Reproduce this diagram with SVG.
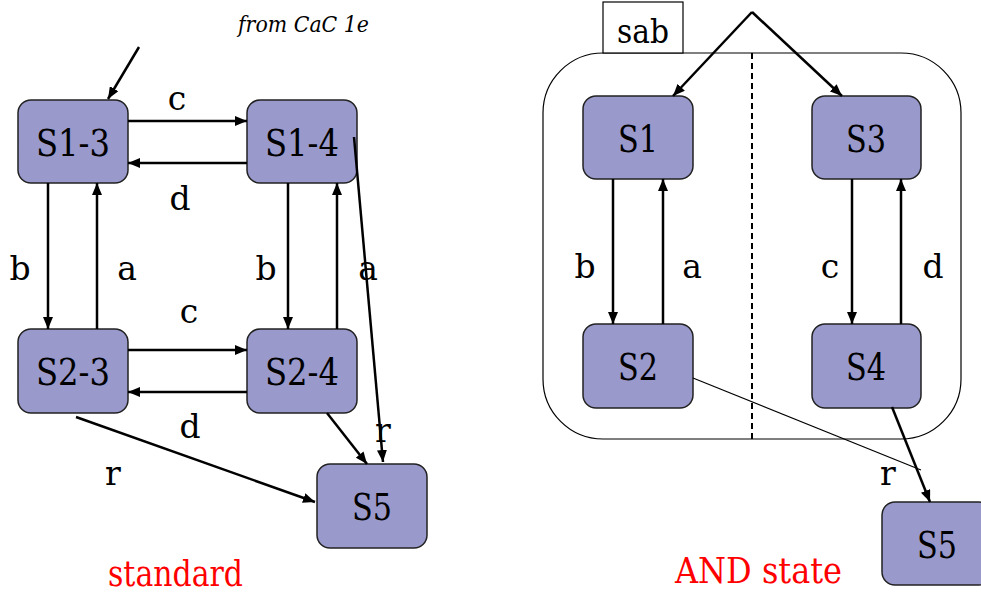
<svg xmlns="http://www.w3.org/2000/svg" width="981" height="594" viewBox="0 0 981 594">
<style>
text{font-family:"DejaVu Serif",serif}
.node rect{fill:#9999cc;stroke:#222;stroke-width:1.5}
.node text{font-size:38px;text-anchor:middle;fill:#000}
.lbl{font-size:33px;text-anchor:middle;fill:#000}
.red{font-size:35px;fill:#ff0000}
.edge{stroke:#000;stroke-width:2.5;fill:none}
</style>
<defs>
<marker id="ah" viewBox="0 0 12 10" refX="12" refY="5" markerWidth="12" markerHeight="10" markerUnits="userSpaceOnUse" orient="auto">
<path d="M0,0 L12,5 L0,10 z" fill="#000"/>
</marker>
</defs>
<text x="238" y="32" font-style="italic" font-size="22" textLength="131" lengthAdjust="spacingAndGlyphs">from CaC 1e</text>
<g id="sab-state">
<rect x="543" y="53" width="418" height="386" rx="60" ry="60" fill="none" stroke="#000" stroke-width="1.2"/>
<line x1="752" y1="53" x2="752" y2="439" stroke="#000" stroke-width="2" stroke-dasharray="6,4"/>
<rect x="603" y="2" width="80" height="51" fill="#fff" stroke="#000" stroke-width="1.2"/>
<text x="643" y="43" class="lbl" font-size="36" textLength="52" lengthAdjust="spacingAndGlyphs">sab</text>
</g>
<g id="S1-3" class="node"><rect x="18" y="100" width="110" height="83" rx="13"/><text x="73" y="156" textLength="74" lengthAdjust="spacingAndGlyphs">S1-3</text></g>
<g id="S1-4" class="node"><rect x="247" y="100" width="110" height="83" rx="13"/><text x="302" y="156" textLength="74" lengthAdjust="spacingAndGlyphs">S1-4</text></g>
<g id="S2-3" class="node"><rect x="18" y="329" width="110" height="84" rx="13"/><text x="73" y="385" textLength="74" lengthAdjust="spacingAndGlyphs">S2-3</text></g>
<g id="S2-4" class="node"><rect x="247" y="329" width="110" height="84" rx="13"/><text x="302" y="385" textLength="74" lengthAdjust="spacingAndGlyphs">S2-4</text></g>
<g id="S5a" class="node"><rect x="317" y="464" width="110" height="84" rx="13"/><text x="372" y="520" textLength="40" lengthAdjust="spacingAndGlyphs">S5</text></g>
<g id="S1" class="node"><rect x="583" y="96" width="110" height="83" rx="13"/><text x="638" y="152" textLength="40" lengthAdjust="spacingAndGlyphs">S1</text></g>
<g id="S3" class="node"><rect x="812" y="96" width="109" height="83" rx="13"/><text x="866" y="152" textLength="40" lengthAdjust="spacingAndGlyphs">S3</text></g>
<g id="S2" class="node"><rect x="583" y="324" width="110" height="84" rx="13"/><text x="638" y="380" textLength="40" lengthAdjust="spacingAndGlyphs">S2</text></g>
<g id="S4" class="node"><rect x="812" y="324" width="109" height="84" rx="13"/><text x="866" y="380" textLength="40" lengthAdjust="spacingAndGlyphs">S4</text></g>
<g id="S5b" class="node"><rect x="882" y="502" width="110" height="83" rx="13"/><text x="937" y="558" textLength="40" lengthAdjust="spacingAndGlyphs">S5</text></g>
<g id="connectors">
<line class="edge" x1="139" y1="47" x2="108" y2="99" marker-end="url(#ah)"/>
<line class="edge" x1="128" y1="121" x2="247" y2="121" marker-end="url(#ah)"/>
<line class="edge" x1="247" y1="163" x2="128" y2="163" marker-end="url(#ah)"/>
<line class="edge" x1="48" y1="183" x2="48" y2="329" marker-end="url(#ah)"/>
<line class="edge" x1="97" y1="329" x2="97" y2="183" marker-end="url(#ah)"/>
<line class="edge" x1="288" y1="183" x2="288" y2="329" marker-end="url(#ah)"/>
<line class="edge" x1="337" y1="329" x2="337" y2="183" marker-end="url(#ah)"/>
<line class="edge" x1="354" y1="137" x2="383" y2="462" marker-end="url(#ah)"/>
<line class="edge" x1="128" y1="350" x2="247" y2="350" marker-end="url(#ah)"/>
<line class="edge" x1="247" y1="392" x2="128" y2="392" marker-end="url(#ah)"/>
<line class="edge" x1="327" y1="413" x2="367" y2="464" marker-end="url(#ah)"/>
<line class="edge" x1="76" y1="417" x2="315" y2="502" marker-end="url(#ah)"/>
<line class="edge" x1="752" y1="12" x2="673" y2="96" marker-end="url(#ah)"/>
<line class="edge" x1="752" y1="12" x2="842" y2="96" marker-end="url(#ah)"/>
<line class="edge" x1="613" y1="179" x2="613" y2="324" marker-end="url(#ah)"/>
<line class="edge" x1="663" y1="324" x2="663" y2="179" marker-end="url(#ah)"/>
<line class="edge" x1="852" y1="179" x2="852" y2="324" marker-end="url(#ah)"/>
<line class="edge" x1="901" y1="324" x2="901" y2="179" marker-end="url(#ah)"/>
<line x1="693" y1="378" x2="921" y2="470" stroke="#000" stroke-width="1.2"/>
<line class="edge" x1="892" y1="407" x2="930" y2="502" marker-end="url(#ah)"/>
</g>
<g id="labels">
<text class="lbl" x="177" y="110">c</text>
<text class="lbl" x="180" y="210">d</text>
<text class="lbl" x="20" y="280">b</text>
<text class="lbl" x="127" y="280">a</text>
<text class="lbl" x="266" y="280">b</text>
<text class="lbl" x="368" y="280">a</text>
<text class="lbl" x="189" y="323">c</text>
<text class="lbl" x="190" y="438">d</text>
<text class="lbl" x="383" y="442">r</text>
<text class="lbl" x="113" y="485">r</text>
<text class="lbl" x="585" y="278">b</text>
<text class="lbl" x="692" y="278">a</text>
<text class="lbl" x="830" y="278">c</text>
<text class="lbl" x="933" y="278">d</text>
<text class="lbl" x="888" y="485">r</text>
</g>
<text class="red" x="108" y="586" textLength="135" lengthAdjust="spacingAndGlyphs">standard</text>
<text class="red" x="675" y="583" textLength="167" lengthAdjust="spacingAndGlyphs">AND state</text>
</svg>
